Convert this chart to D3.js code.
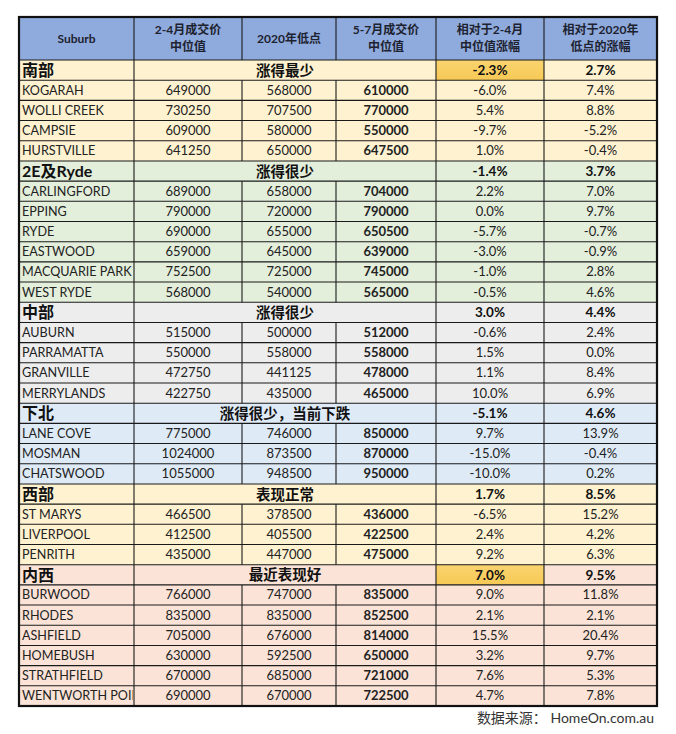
<!DOCTYPE html>
<html><head><meta charset="utf-8">
<script src="https://cdn.jsdelivr.net/npm/d3@7"></script>
<style>body{margin:0;background:#fff}svg{display:block}</style>
</head><body>
<script>
const headers = [["Suburb"],["2-4月成交价","中位值"],["2020年低点"],["5-7月成交价","中位值"],["相对于2-4月","中位值涨幅"],["相对于2020年","低点的涨幅"]];
const sectionNames = ["南部","2E及Ryde","中部","下北","西部","内西"];
const sectionNotes = ["涨得最少","涨得很少","涨得很少","涨得很少，当前下跌","表现正常","最近表现好"];
const sectionChg24 = ["-2.3%","-1.4%","3.0%","-5.1%","1.7%","7.0%"];
const sectionChg2020 = ["2.7%","3.7%","4.4%","4.6%","8.5%","9.5%"];
const sectionHighlight = [true,false,false,false,false,true];
const sectionColors = ["#FEF2D0","#E3EEDB","#EDEDED","#DEEAF6","#FEF2D0","#FBE4D7"];
const suburbSection = [0,0,0,0,1,1,1,1,1,1,2,2,2,2,3,3,3,4,4,4,5,5,5,5,5,5];
const suburbs = ["KOGARAH","WOLLI CREEK","CAMPSIE","HURSTVILLE","CARLINGFORD","EPPING","RYDE","EASTWOOD","MACQUARIE PARK","WEST RYDE","AUBURN","PARRAMATTA","GRANVILLE","MERRYLANDS","LANE COVE","MOSMAN","CHATSWOOD","ST MARYS","LIVERPOOL","PENRITH","BURWOOD","RHODES","ASHFIELD","HOMEBUSH","STRATHFIELD","WENTWORTH POINT"];
const price24 = [649000,730250,609000,641250,689000,790000,690000,659000,752500,568000,515000,550000,472750,422750,775000,1024000,1055000,466500,412500,435000,766000,835000,705000,630000,670000,690000];
const low2020 = [568000,707500,580000,650000,658000,720000,655000,645000,725000,540000,500000,558000,441125,435000,746000,873500,948500,378500,405500,447000,747000,835000,676000,592500,685000,670000];
const price57 = [610000,770000,550000,647500,704000,790000,650500,639000,745000,565000,512000,558000,478000,465000,850000,870000,950000,436000,422500,475000,835000,852500,814000,650000,721000,722500];
const chg24 = ["-6.0%","5.4%","-9.7%","1.0%","2.2%","0.0%","-5.7%","-3.0%","-1.0%","-0.5%","-0.6%","1.5%","1.1%","10.0%","9.7%","-15.0%","-10.0%","-6.5%","2.4%","9.2%","9.0%","2.1%","15.5%","3.2%","7.6%","4.7%"];
const chg2020 = ["7.4%","8.8%","-5.2%","-0.4%","7.0%","9.7%","-0.7%","-0.9%","2.8%","4.6%","2.4%","0.0%","8.4%","6.9%","13.9%","-0.4%","0.2%","15.2%","4.2%","6.3%","11.8%","2.1%","20.4%","9.7%","5.3%","7.8%"];
const sourceText = "数据来源： HomeOn.com.au";

const W = 676, H = 734;
const colEdges = [19,134,242,336,436,544,657];
const tableTop = 17, headerBottom = 60, tableBottom = 706;
const FONT = "Lato, 'Noto Sans CJK SC', sans-serif";

const rows = [];
sectionNames.forEach((s,i)=>{
  rows.push({type:"section", i});
  suburbSection.forEach((sec,j)=>{ if(sec===i) rows.push({type:"data", i:j, sec}); });
});
const y = d3.scaleLinear().domain([0, rows.length]).range([headerBottom, tableBottom]);
const rh = y(1)-y(0);
const x = i => colEdges[i];

const svg = d3.select("body").append("svg").attr("width",W).attr("height",H);
svg.append("defs").append("clipPath").attr("id","c1").append("rect")
  .attr("x",x(0)).attr("y",headerBottom).attr("width",x(1)-x(0)-1).attr("height",tableBottom-headerBottom);
const grad = svg.select("defs").append("linearGradient").attr("id","gold").attr("x1",0).attr("x2",0).attr("y1",0).attr("y2",1);
grad.append("stop").attr("offset","0%").attr("stop-color","#FAD470");
grad.append("stop").attr("offset","100%").attr("stop-color","#F7C955");

svg.append("rect").attr("x",x(0)).attr("y",tableTop).attr("width",x(6)-x(0)).attr("height",headerBottom-tableTop).attr("fill","#8FAADC");
headers.forEach((h,c)=>{
  const cx=(x(c)+x(c+1))/2;
  const t = svg.append("text").attr("x",cx).attr("text-anchor","middle").attr("font-family",FONT)
    .attr("font-size",12).attr("font-weight","bold").attr("fill","#1d2230");
  if(h.length===1){ t.append("tspan").attr("x",cx).attr("y",(tableTop+headerBottom)/2+4).text(h[0]); }
  else { t.append("tspan").attr("x",cx).attr("y",tableTop+17).text(h[0]);
         t.append("tspan").attr("x",cx).attr("y",tableTop+34).text(h[1]); }
});

const g = svg.append("g");
rows.forEach((r,k)=>{
  const sec = r.type==="section"? r.i : r.sec;
  g.append("rect").attr("x",x(0)).attr("y",y(k)).attr("width",x(6)-x(0)).attr("height",rh).attr("fill",sectionColors[sec]);
  if(r.type==="section" && sectionHighlight[r.i]){
    g.append("rect").attr("x",x(4)).attr("y",y(k)).attr("width",x(5)-x(4)).attr("height",rh).attr("fill","url(#gold)");
  }
});

const lines = svg.append("g").attr("stroke","#1a1a1a").attr("stroke-width",1.1);
rows.forEach((r,k)=>{
  lines.append("line").attr("x1",x(0)).attr("x2",x(6)).attr("y1",y(k)).attr("y2",y(k));
});
for(let c=1;c<6;c++){
  lines.append("line").attr("x1",x(c)).attr("x2",x(c)).attr("y1",tableTop).attr("y2",headerBottom);
}
rows.forEach((r,k)=>{
  const cs = r.type==="section"? [1,4,5] : [1,2,3,4,5];
  cs.forEach(c=> lines.append("line").attr("x1",x(c)).attr("x2",x(c)).attr("y1",y(k)).attr("y2",y(k+1)));
});
svg.append("rect").attr("x",x(0)).attr("y",tableTop).attr("width",x(6)-x(0)).attr("height",tableBottom-tableTop)
  .attr("fill","none").attr("stroke","#111").attr("stroke-width",2.2);

const tg = svg.append("g").attr("font-family",FONT).attr("fill","#222");
rows.forEach((r,k)=>{
  const cy = y(k)+rh/2;
  const mid = c => (x(c)+x(c+1))/2;
  if(r.type==="section"){
    tg.append("text").attr("x",x(0)+3).attr("y",cy+6).attr("font-size",16).attr("font-weight","bold").attr("fill","#111").text(sectionNames[r.i]);
    tg.append("text").attr("x",(x(1)+x(4))/2).attr("y",cy+5.5).attr("text-anchor","middle").attr("font-size",14.5).attr("font-weight","bold").attr("fill","#111").text(sectionNotes[r.i]);
    tg.append("text").attr("x",mid(4)).attr("y",cy+5).attr("text-anchor","middle").attr("font-size",13.5).attr("font-weight","bold").attr("fill","#111").text(sectionChg24[r.i]);
    tg.append("text").attr("x",mid(5)).attr("y",cy+5).attr("text-anchor","middle").attr("font-size",13.5).attr("font-weight","bold").attr("fill","#111").text(sectionChg2020[r.i]);
  } else {
    const j=r.i;
    tg.append("text").attr("clip-path","url(#c1)").attr("x",x(0)+3).attr("y",cy+4.5).attr("font-size",12.6).text(suburbs[j]);
    tg.append("text").attr("x",mid(1)).attr("y",cy+4.5).attr("text-anchor","middle").attr("font-size",13).text(price24[j]);
    tg.append("text").attr("x",mid(2)).attr("y",cy+4.5).attr("text-anchor","middle").attr("font-size",13).text(low2020[j]);
    tg.append("text").attr("x",mid(3)).attr("y",cy+4.5).attr("text-anchor","middle").attr("font-size",13).attr("font-weight","bold").text(price57[j]);
    tg.append("text").attr("x",mid(4)).attr("y",cy+4.5).attr("text-anchor","middle").attr("font-size",13).text(chg24[j]);
    tg.append("text").attr("x",mid(5)).attr("y",cy+4.5).attr("text-anchor","middle").attr("font-size",13).text(chg2020[j]);
  }
});

svg.append("text").attr("x",654).attr("y",723).attr("text-anchor","end").attr("font-family",FONT)
  .attr("font-size",14).attr("fill","#333").text(sourceText);
</script>
</body></html>
